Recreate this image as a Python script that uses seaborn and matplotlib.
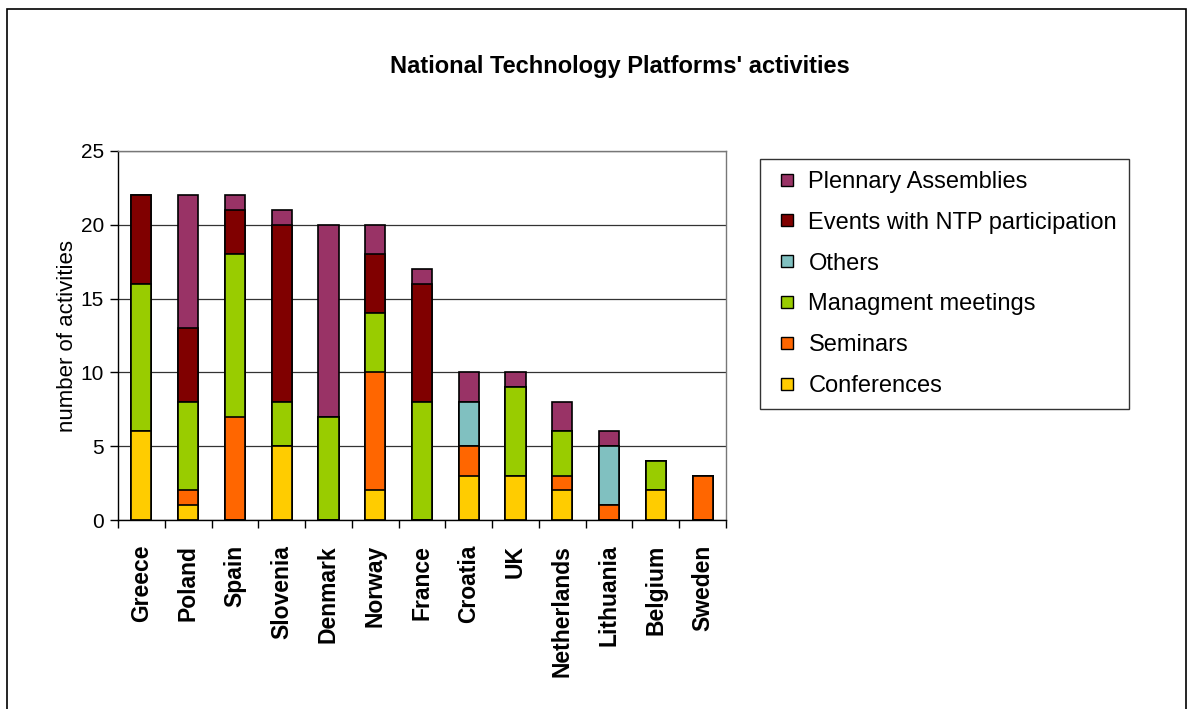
import pandas as pd
import matplotlib
matplotlib.use("Agg")
import matplotlib.pyplot as plt
import seaborn as sns
from matplotlib.lines import Line2D
from matplotlib.patches import Rectangle

countries = ["Greece", "Poland", "Spain", "Slovenia", "Denmark", "Norway", "France",
             "Croatia", "UK", "Netherlands", "Lithuania", "Belgium", "Sweden"]

# stacking order, bottom to top
conferences = [6, 1, 0, 5, 0, 2, 0, 3, 3, 2, 0, 2, 0]
seminars    = [0, 1, 7, 0, 0, 8, 0, 2, 0, 1, 1, 0, 3]
managment   = [10, 6, 11, 3, 7, 4, 8, 0, 6, 3, 0, 2, 0]
others      = [0, 0, 0, 0, 0, 0, 0, 3, 0, 0, 4, 0, 0]
events      = [6, 5, 3, 12, 0, 4, 8, 0, 0, 0, 0, 0, 0]
plenary     = [0, 9, 1, 1, 13, 2, 1, 2, 1, 2, 1, 0, 0]

series = ["Conferences", "Seminars", "Managment meetings", "Others",
          "Events with NTP participation", "Plennary Assemblies"]
colors = ["#FFCC00", "#FF6600", "#99CC00", "#80C0C0", "#800000", "#993366"]

df = pd.DataFrame({"Country": countries, "Conferences": conferences, "Seminars": seminars,
                   "Managment meetings": managment, "Others": others,
                   "Events with NTP participation": events, "Plennary Assemblies": plenary})

sns.set_theme(style="white")
plt.rcParams["font.family"] = ["Liberation Sans", "DejaVu Sans"]
plt.rcParams["text.color"] = "black"
plt.rcParams["axes.labelcolor"] = "black"
plt.rcParams["xtick.color"] = "black"
plt.rcParams["ytick.color"] = "black"

fig = plt.figure(figsize=(11.93, 7.09), dpi=100)
ax = fig.add_axes([118 / 1193, 1 - 520 / 709, 608 / 1193, 369 / 709])

cum = df[series].cumsum(axis=1)
for name, col in reversed(list(zip(series, colors))):
    sns.barplot(x=df["Country"], y=cum[name], color=col, width=0.43,
                edgecolor="black", linewidth=1.2, ax=ax, saturation=1)

ax.set_ylim(0, 25)
ax.set_xlim(-0.5, len(countries) - 0.5)
ax.set_yticks([0, 5, 10, 15, 20, 25])
ax.yaxis.grid(True, color="#333333", linewidth=0.9)
ax.set_axisbelow(True)
for s in ["top", "right"]:
    ax.spines[s].set_color("#777777")
    ax.spines[s].set_linewidth(1.0)
for s in ["left", "bottom"]:
    ax.spines[s].set_color("black")
    ax.spines[s].set_linewidth(1.0)

ax.tick_params(axis="y", left=True, length=6, width=1, color="black", labelsize=15, pad=4)
ax.set_xticks(range(len(countries)))
ax.set_xticklabels(countries, rotation=90, fontweight="bold", fontsize=16.5)
ax.tick_params(axis="x", which="major", bottom=False, pad=12)
ax.set_xticks([i - 0.5 for i in range(len(countries) + 1)], minor=True)
ax.tick_params(axis="x", which="minor", bottom=True, length=6, width=1, color="black")
ax.set_xlabel("")
ax.set_ylabel("number of activities", fontsize=16, labelpad=2)

fig.text(0.52, 1 - 66 / 709, "National Technology Platforms' activities",
         ha="center", va="center", fontsize=17, fontweight="bold")

handles = [Line2D([], [], linestyle="None", marker="s", markersize=9,
                  markerfacecolor=c, markeredgecolor="black", markeredgewidth=1, label=n)
           for n, c in reversed(list(zip(series, colors)))]
leg = fig.legend(handles=handles, loc="upper left",
                 bbox_to_anchor=(760 / 1193, 1 - 159 / 709), fontsize=17,
                 frameon=True, fancybox=False, handlelength=1.3,
                 handletextpad=0.25, labelspacing=0.8, borderpad=0.5, borderaxespad=0)
leg.get_frame().set_edgecolor("black")
leg.get_frame().set_linewidth(1.0)

fig.add_artist(Rectangle((7.5 / 1193, -0.1), (1186 - 7.5) / 1193, 1.1 - 9 / 709,
                         transform=fig.transFigure, fill=False, edgecolor="black",
                         linewidth=1.2))

fig.savefig("out.png", dpi=100)
